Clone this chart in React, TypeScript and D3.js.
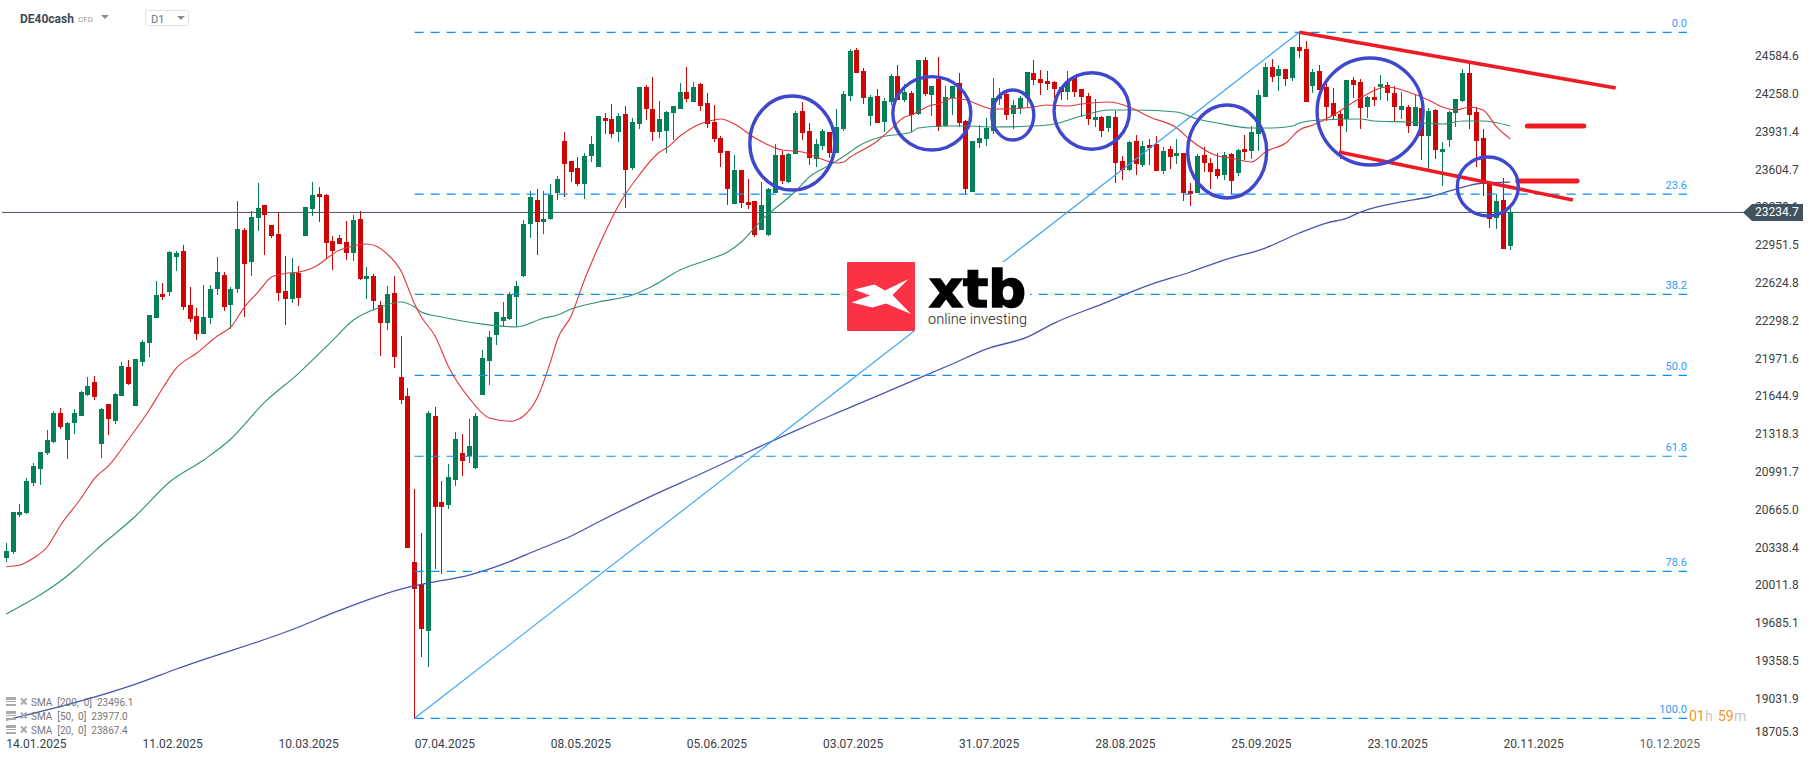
import React from 'react';
import * as d3 from 'd3';

const opens = [
  20249,20301,20621,20638,20897,21018,21156,21251,21502,21268,
  21415,21476,21657,21770,21234,21579,21433,21649,21899,21562,
  21943,22106,22322,22530,22547,22849,22901,22435,22340,22184,
  22322,22573,22694,22435,22573,23083,22806,23186,23299,23126,
  23048,22556,22487,22711,23031,23264,23394,23385,22987,23013,
  22979,22884,23178,22660,22685,22435,22279,22538,21813,21649,
  20215,20024,19618,21476,20733,20707,20923,21156,21130,21027,
  21657,21951,22176,22297,22314,22504,22685,23135,23342,23152,
  23178,23402,23852,23679,23618,23480,23722,23627,24050,24042,
  23930,24085,23618,23999,24318,24128,23930,23938,24094,24128,
  24275,24189,24344,24180,24016,23878,23765,23307,23601,23325,
  23333,23083,23039,23402,23731,23497,23739,24111,23938,23696,
  23809,23930,23748,23955,24241,24638,24457,24068,24241,24016,
  24189,24413,24206,24266,24085,24552,24249,24387,23981,24223,
  24353,24024,23411,23834,23869,23938,24215,24258,24085,24137,
  24223,24439,24387,24370,24361,24318,24275,24405,24301,24241,
  24033,24059,23964,24059,23679,23601,23852,23644,23817,23826,
  23593,23783,23722,23748,23420,23402,23731,23662,23610,23558,
  23739,23575,23783,23765,23912,24232,24491,24413,24474,24396,
  24664,24647,24327,24457,24318,24180,24085,24042,24379,24361,
  24145,24232,24318,24336,24266,24120,24145,23981,24137,23895,
  24120,23757,23860,24094,24197,24439,24102,23878,23480,23186,23342,22945,
];

const highs = [
  20378,20647,20715,20940,21070,21165,21355,21519,21545,21424,
  21536,21692,21813,21821,21545,21579,21674,21943,21960,21969,
  22132,22348,22642,22625,22901,22901,22953,22590,22409,22607,
  22607,22849,22720,22590,23333,23100,23247,23489,23299,23126,
  23229,22858,22841,22772,23281,23498,23454,23394,23031,23039,
  23160,23212,23247,22763,22702,22469,22599,22685,22167,21717,
  20845,20465,21519,21553,20914,21061,21338,21320,21450,21502,
  22046,22210,22374,22461,22547,22642,23169,23420,23437,23420,
  23480,23549,23930,23679,23713,23748,23895,24068,24094,24171,
  24094,24154,24050,24318,24336,24405,24197,24111,24154,24353,
  24491,24361,24353,24266,24163,23895,23765,23731,23601,23523,
  23333,23498,23446,23826,23765,23748,24111,24189,24007,23869,
  23955,23930,24128,24284,24647,24655,24482,24249,24301,24223,
  24431,24508,24344,24284,24552,24577,24327,24577,24327,24327,
  24439,24033,23852,23990,24050,24396,24310,24284,24206,24241,
  24448,24552,24465,24457,24370,24318,24457,24413,24301,24266,
  24215,24068,24068,24111,23722,23852,23904,23852,23869,23895,
  23800,23809,23869,23748,23489,23739,23800,23705,23748,23757,
  23748,23783,23904,23981,24292,24526,24560,24508,24474,24664,
  24793,24716,24474,24508,24387,24310,24120,24379,24405,24387,
  24241,24318,24422,24361,24327,24275,24163,24258,24137,24137,
  24128,23843,24111,24215,24474,24526,24145,23955,23497,23394,23532,23281,
];

const lows = [
  20215,20283,20603,20629,20871,20880,21139,21242,21363,21104,
  21320,21476,21649,21614,21113,21312,21407,21649,21743,21562,
  21908,21986,22322,22478,22512,22728,22392,22288,22132,22184,
  22270,22521,22383,22227,22538,22331,22685,23074,22867,23013,
  22469,22262,22452,22426,23031,23204,23152,22832,22737,22962,
  22824,22815,22651,22487,22392,21995,22219,21891,21579,20335,
  18858,19394,19307,20154,20111,20672,20871,20957,21070,21018,
  21657,21743,22089,22253,22305,22245,22677,23014,22867,23048,
  23169,23342,23368,23497,23463,23351,23670,23627,23912,23878,
  23843,23273,23601,23955,24033,23852,23878,23748,23860,24128,
  24189,24189,24111,23964,23843,23627,23299,23307,23273,23264,
  23022,23083,23031,23402,23480,23489,23739,23860,23644,23627,
  23774,23705,23748,23938,24197,24439,24171,23981,24007,23930,
  24163,24206,24189,23930,24076,24241,24068,23938,23973,24076,
  23973,23394,23411,23791,23809,23912,24163,24033,23955,24085,
  24137,24336,24249,24292,24223,24206,24206,24232,24059,23990,
  23973,23886,23930,23489,23515,23593,23558,23627,23644,23593,
  23567,23610,23653,23333,23290,23402,23584,23437,23523,23515,
  23394,23549,23688,23696,23765,24232,24361,24284,24327,24370,
  24569,24189,24266,24292,24025,24033,23696,23930,24223,23955,
  24050,24154,24206,24197,24016,24042,23921,23981,23688,23610,
  23696,23463,23800,23973,24189,23955,23627,23377,23100,23091,22919,22910,
];

const closes = [
  20309,20647,20647,20914,21044,21165,21268,21502,21381,21415,
  21502,21683,21735,21640,21536,21450,21666,21908,21752,21969,
  22115,22348,22521,22504,22893,22884,22417,22314,22184,22331,
  22573,22720,22417,22573,23091,22789,23195,23273,23212,23031,
  22538,22487,22711,22495,23281,23385,23368,22970,22901,22962,
  22884,23169,22660,22685,22469,22279,22530,21986,21614,20335,
  19981,19635,21502,20689,20689,20949,21277,21087,21217,21476,
  21977,22158,22374,22331,22530,22599,23135,23368,23152,23178,
  23385,23523,23653,23584,23480,23722,23826,24068,24024,23912,
  24068,23601,24016,24318,24128,23930,24042,24102,24154,24275,
  24215,24318,24154,23999,23869,23748,23437,23601,23316,23299,
  23039,23299,23437,23731,23506,23739,24094,23921,23705,23826,
  23938,23748,23973,24258,24629,24439,24223,24232,24007,24197,
  24413,24206,24275,24076,24552,24258,24327,23973,24232,24327,
  24007,23437,23852,23878,23964,24223,24241,24076,24163,24223,
  24448,24379,24353,24344,24301,24275,24370,24275,24232,24042,
  24059,23938,24068,23662,23601,23843,23653,23809,23791,23593,
  23765,23713,23748,23402,23394,23722,23662,23584,23549,23731,
  23506,23774,23757,23930,24249,24491,24405,24474,24387,24664,
  24629,24189,24448,24292,24145,24068,23981,24379,24336,24137,
  24232,24206,24344,24266,24145,24154,23981,24145,23895,24111,
  23774,23783,24102,24215,24439,24076,23852,23480,23178,23333,22919,23235,
];

// moving averages at selected bars
const sma20Bars = [0,2,4,6,8,11,13,15,18,21,23,25,28,31,33,35,37,39,41,43,45,49,51,53,56,58,60,61,63,65,68,71,74,76,78,80,81,83,85,87,90,93,96,97,99,101,104,105,107,110,114,117,119,122,123,124,128,130,132,133,136,137,139,141,145,147,151,153,156,158,162,165,168,172,174,178,180,183,185,188,190,192,195,198,203,206,209,211,213,215,217,219,221];
const sma20Values = [20174,20188,20249,20344,20534,20767,20940,21044,21277,21528,21718,21891,22020,22167,22245,22417,22547,22677,22707,22720,22754,22910,22945,22962,22875,22729,22443,22331,22167,21899,21631,21458,21430,21476,21631,21951,22141,22340,22659,22936,23299,23558,23757,23791,23895,23973,24033,24042,23999,23878,23774,23757,23713,23662,23670,23713,23852,23955,24059,24076,24163,24171,24223,24206,24128,24128,24146,24163,24154,24171,24189,24146,24059,23964,23860,23722,23705,23670,23757,23835,23947,23990,24076,24189,24318,24275,24206,24146,24120,24146,24120,23973,23869];

const sma50Bars = [0,10,13,19,24,29,33,38,43,48,51,55,58,60,61,64,67,70,75,79,81,83,87,92,95,99,103,106,108,111,116,118,121,124,125,128,133,134,138,141,145,151,154,158,162,166,172,175,178,183,186,189,190,193,199,201,206,211,214,217,221];
const sma50Values = [19765,20145,20309,20612,20906,21096,21277,21597,21847,22132,22305,22417,22461,22417,22374,22331,22297,22270,22245,22322,22348,22400,22461,22521,22599,22737,22824,22893,22979,23169,23420,23541,23644,23757,23800,23878,23930,23964,23981,23981,23973,23981,23999,24068,24120,24120,24102,24042,24007,23964,23964,23981,24007,24033,24042,24025,24016,23999,24025,24025,23981];

const sma200Bars = [0,12,19,25,43,48,53,58,62,68,73,78,83,87,95,102,109,117,124,131,139,144,150,154,161,168,174,179,185,190,194,197,199,205,209,213,217,221];
const sma200Values = [18849,19031,19160,19290,19653,19774,19886,19981,20033,20102,20197,20318,20439,20560,20790,20975,21165,21376,21550,21725,21925,22054,22158,22279,22443,22608,22720,22824,22927,23057,23143,23186,23238,23325,23368,23437,23489,23497];

const priceTicks = [24584.6,24258.0,23931.4,23604.7,23278.1,22951.5,22624.8,22298.2,21971.6,21644.9,21318.3,20991.7,20665.0,20338.4,20011.8,19685.1,19358.5,19031.9,18705.3];
const dateTickBars = [0,20,40,60,80,100,120,140,160,180,200,220,240];
const dateTickLabels = ['14.01.2025','11.02.2025','10.03.2025','07.04.2025','08.05.2025','05.06.2025','03.07.2025','31.07.2025','28.08.2025','25.09.2025','23.10.2025','20.11.2025','10.12.2025'];

const fibLabels = ['0.0','23.6','38.2','50.0','61.8','78.6','100.0'];
const fibPrices = [24791,23392,22527,21827.5,21128,20133,18864];
const fibStartBar = 60;
const fibEndBar = 190;

const legendLabels = ['SMA [200, 0] 23496.1','SMA [50, 0] 23977.0','SMA [20, 0] 23867.4'];
const lastPrice = 23234.7;

// hand drawn annotations, as [bar, price] ends
const trendStartBars = [190, 195.8];
const trendStartPrices = [24791, 23757];
const trendEndBars = [236.5, 230.2];
const trendEndPrices = [24310, 23342];
const levelStartBars = [223.5, 222.1];
const levelEndBars = [231.8, 230.8];
const levelPrices = [23981, 23506];

const circleBars = [115.5,136,147.9,159.5,179.4,200.4,217.7];
const circlePrices = [23834,24091,24076,24111,23761,24107,23459];
const circleRx = [42.5,39,21,37.7,39.5,53,30.5];
const circleRy = [47,36.7,25,38.2,46.5,53.5,29.5];

const WIDTH = 1815;
const HEIGHT = 761;
const GREEN = '#047f57';
const RED = '#d00505';
const FIB_BLUE = '#0a8dff';
const FONT = 'Roboto, sans-serif';

const x = d3.scaleLinear().domain([0, 221]).range([6.3, 1510.3]);
const y = d3.scaleLinear().domain([24791, 18864]).range([32.3, 718.3]);

const smaLine = (bars: number[], values: number[]) =>
  d3.line<number>()
    .x(d => x(d))
    .y((_, i) => y(values[i]))
    .curve(d3.curveMonotoneX)(bars) as string;

const Candle: React.FC<{ index: number }> = ({ index }) => {
  const px = Math.floor(x(index));
  const up = closes[index] >= opens[index];
  const color = up ? GREEN : RED;
  const top = Math.round(y(Math.max(opens[index], closes[index])));
  const bottom = Math.round(y(Math.min(opens[index], closes[index])));
  return (
    <g fill={color} shapeRendering="crispEdges">
      <rect x={px} y={y(highs[index])} width={1} height={y(lows[index]) - y(highs[index])} />
      <rect x={px - 2} y={top} width={5} height={Math.max(bottom - top, 2)} />
    </g>
  );
};

const Logo: React.FC = () => (
  <g>
    <rect x={847} y={262} width={183} height={69} fill="#fff" />
    <rect x={847} y={262} width={68} height={69} rx={1} fill="#fb3245" />
    <polygon
      points="854,289.5 874.5,284.5 885,290.5 908.5,279 892.5,295 911,314 886,303.5 872.5,307.5 851.5,302.5 870,295.5"
      fill="#fff"
    />
    <text x={929} y={307} fontFamily="'DejaVu Sans', sans-serif" fontWeight={700} fontSize={52} textLength={97} lengthAdjust="spacingAndGlyphs" fill="#000" stroke="#000" strokeWidth={1.6}>xtb</text>
    <text x={928} y={324} fontFamily={FONT} fontWeight={300} fontSize={15} textLength={99} lengthAdjust="spacingAndGlyphs" fill="#222">online investing</text>
  </g>
);

const Header: React.FC = () => (
  <g fontFamily={FONT}>
    <text x={20} y={23} fontSize={12} fontWeight={700} fill="#3b4a57">DE40cash</text>
    <text x={78} y={22} fontSize={8} fill="#9a9a9a">CFD</text>
    <path d="M101,15 L109,15 L105,19 Z" fill="#8c8c8c" />
    <rect x={145.5} y={10.5} width={43} height={15} rx={2} fill="#fff" stroke="#e2e2e2" />
    <text x={151} y={23} fontSize={11} fill="#6b7580">D1</text>
    <path d="M177,16 L185,16 L181,20 Z" fill="#8c8c8c" />
  </g>
);

const Legend: React.FC = () => (
  <g fontFamily={FONT}>
    {legendLabels.map((label, i) => {
      const cy = 701.5 + i * 14;
      return (
        <g key={label}>
          <g fill="#a9a9a9" shapeRendering="crispEdges">
            <rect x={6} y={cy - 5} width={10} height={3} />
            <rect x={6} y={cy - 1} width={10} height={1} />
            <rect x={6} y={cy + 2} width={10} height={2} />
          </g>
          <path d={`M21,${cy - 3} L26.5,${cy + 3} M26.5,${cy - 3} L21,${cy + 3}`} stroke="#aaa" strokeWidth={2} />
          <text x={31} y={cy + 4} fontSize={10} fill="#777" wordSpacing={2.5}>{label}</text>
        </g>
      );
    })}
  </g>
);

export default function App() {
  const priceY = y(lastPrice);
  return (
    <svg
      width={WIDTH}
      height={HEIGHT}
      viewBox={`0 0 ${WIDTH} ${HEIGHT}`}
      style={{ position: 'fixed', left: 0, top: 0, background: '#fff' }}
    >
      <line x1={2} x2={1744} y1={priceY} y2={priceY} stroke="#44525d" strokeWidth={1} />

      {opens.map((_, i) => <Candle key={i} index={i} />)}

      <path d={smaLine(sma200Bars, sma200Values)} fill="none" stroke="#4a54ad" strokeWidth={1.3} />
      <path d={smaLine(sma50Bars, sma50Values)} fill="none" stroke="#2f9272" strokeWidth={1.1} />
      <path d={smaLine(sma20Bars, sma20Values)} fill="none" stroke="#e2333b" strokeWidth={1.1} />

      {fibPrices.map((p, i) => (
        <g key={fibLabels[i]}>
          <line x1={x(fibStartBar)} x2={1687} y1={y(p)} y2={y(p)} stroke={FIB_BLUE} strokeWidth={1.2} strokeDasharray="9 7" />
          <text x={1687} y={y(p) - 5} textAnchor="end" fontFamily={FONT} fontSize={11} fill="#2f9bff">{fibLabels[i]}</text>
        </g>
      ))}
      <line
        x1={x(fibStartBar)} y1={y(fibPrices[6])}
        x2={x(fibEndBar)} y2={y(fibPrices[0])}
        stroke="#35a0f7" strokeWidth={1.1}
      />

      <Logo />

      {trendStartBars.map((b, i) => (
        <line
          key={b}
          x1={x(b)} y1={y(trendStartPrices[i])}
          x2={x(trendEndBars[i])} y2={y(trendEndPrices[i])}
          stroke="#ed1c24" strokeWidth={3.6}
        />
      ))}
      {levelPrices.map((p, i) => (
        <line
          key={p}
          x1={x(levelStartBars[i])} x2={x(levelEndBars[i])}
          y1={y(p)} y2={y(p)}
          stroke="#ed1c24" strokeWidth={5} strokeLinecap="round"
        />
      ))}
      {circleBars.map((b, i) => (
        <ellipse
          key={b}
          cx={x(b)} cy={y(circlePrices[i])}
          rx={circleRx[i]} ry={circleRy[i]}
          fill="none" stroke="#3f48cc" strokeWidth={3.4}
        />
      ))}

      <g fontFamily={FONT} fontSize={12} fill="#3c4043">
        {priceTicks.map(t => (
          <text key={t} x={1755} y={Math.min(y(t), 732)} dominantBaseline="central">{t.toFixed(1)}</text>
        ))}
        {dateTickBars.map((b, i) => (
          <text key={b} x={x(b)} y={748} fill={i === 12 ? '#5f6368' : '#3c4043'}>{dateTickLabels[i]}</text>
        ))}
      </g>

      <path d={`M1743,${priceY} L1752,204 L1803,204 L1803,221 L1752,221 Z`} fill="#42535f" />
      <text x={1755} y={priceY} dominantBaseline="central" fontFamily={FONT} fontSize={12} fill="#fff">{lastPrice.toFixed(1)}</text>

      <g fontFamily={FONT} fontSize={14}>
        <text x={1689} y={721} fill="#f7941d">01</text>
        <text x={1705} y={721} fill="#c6c6c6">h</text>
        <text x={1718} y={721} fill="#f7941d">59</text>
        <text x={1734} y={721} fill="#c6c6c6">m</text>
      </g>

      <Header />
      <Legend />
    </svg>
  );
}
